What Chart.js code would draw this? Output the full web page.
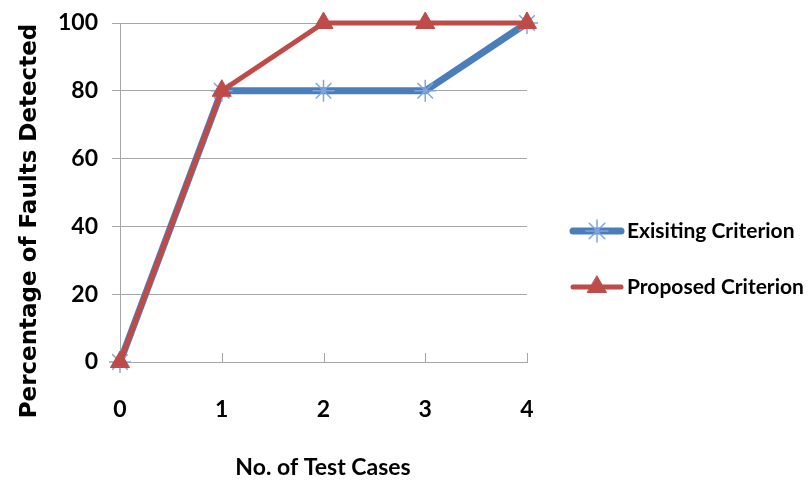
<!DOCTYPE html>
<html>
<head>
<meta charset="utf-8">
<script src="https://cdn.jsdelivr.net/npm/chart.js@4"></script>
<style>
  html, body { margin: 0; padding: 0; background: #fff; }
  #wrap { width: 812px; height: 484px; }
</style>
</head>
<body>
<div id="wrap"><canvas id="chart" width="812" height="484"></canvas></div>
<script>
// chart data
const testCases = [0, 1, 2, 3, 4];
const existing = [0, 80, 80, 80, 100];
const proposed = [0, 80, 100, 100, 100];
const yTicks = [0, 20, 40, 60, 80, 100];

const blue = '#4a7ebb';
const blueMark = '#7fa6dc';
const red = '#be4b48';
const gridGray = '#a6a6a6';

// axis titles, x tick marks and legend drawn on top of the chart
const extras = {
    id: 'extras',
    afterDraw(chart) {
        const c = chart.ctx;
        const area = chart.chartArea;
        const xs = chart.scales.x;
        c.save();

        // small inner tick marks on the x axis
        c.strokeStyle = gridGray;
        c.lineWidth = 1;
        testCases.forEach(v => {
            if (v === 0) return;
            const px = Math.round(xs.getPixelForValue(v)) + 0.5;
            c.beginPath();
            c.moveTo(px, area.bottom);
            c.lineTo(px, area.bottom - 9);
            c.stroke();
        });

        // axis titles
        c.fillStyle = '#000';
        c.textAlign = 'center';
        c.textBaseline = 'middle';
        c.font = 'bold 23px Lato';
        c.fillText('No. of Test Cases', 323, 468);

        c.translate(30, 221);
        c.rotate(-Math.PI / 2);
        c.font = 'bold 23px "DejaVu Sans"';
        c.fillText('Percentage of Faults Detected', 0, 0);
        c.restore();

        // legend
        const items = [
            { label: 'Exisiting Criterion', ds: chart.data.datasets[0], y: 231 },
            { label: 'Proposed Criterion', ds: chart.data.datasets[1], y: 287 }
        ];
        items.forEach(it => {
            c.save();
            c.strokeStyle = it.ds.borderColor;
            c.lineWidth = it.ds.borderWidth;
            c.lineCap = 'round';
            c.beginPath();
            c.moveTo(573, it.y);
            c.lineTo(621, it.y);
            c.stroke();
            c.fillStyle = it.ds.pointBackgroundColor;
            c.strokeStyle = it.ds.pointBorderColor;
            c.lineWidth = it.ds.pointBorderWidth;
            Chart.helpers.drawPoint(c, {
                pointStyle: it.ds.pointStyle,
                radius: it.ds.pointRadius,
                borderWidth: it.ds.pointBorderWidth,
                rotation: 0
            }, 597, it.y);
            c.fillStyle = '#000';
            c.textAlign = 'left';
            c.textBaseline = 'middle';
            c.font = 'bold 21px Lato';
            c.fillText(it.label, 627, it.y);
            c.restore();
        });
    }
};

const ctx = document.getElementById('chart').getContext('2d');

new Chart(ctx, {
    type: 'line',
    data: {
        labels: testCases,
        datasets: [{
            label: 'Exisiting Criterion',
            data: existing.map((v, i) => ({ x: testCases[i], y: v })),
            borderColor: blue,
            backgroundColor: blue,
            borderWidth: 7,
            pointStyle: 'star',
            pointRadius: 11,
            pointBorderColor: blueMark,
            pointBorderWidth: 1.5,
            pointBackgroundColor: blueMark,
            tension: 0,
            clip: false,
            order: 1
        }, {
            label: 'Proposed Criterion',
            data: proposed.map((v, i) => ({ x: testCases[i], y: v })),
            borderColor: red,
            backgroundColor: red,
            borderWidth: 5,
            pointStyle: 'triangle',
            pointRadius: 11,
            pointBorderColor: red,
            pointBorderWidth: 1,
            pointBackgroundColor: red,
            tension: 0,
            clip: false,
            order: 0
        }]
    },
    options: {
        responsive: false,
        animation: false,
        layout: { padding: { left: 0, right: 285, top: 23, bottom: 0 } },
        plugins: {
            legend: { display: false },
            tooltip: { enabled: false }
        },
        scales: {
            x: {
                type: 'linear',
                min: 0,
                max: 4,
                afterFit(scale) {
                    scale.height = 122;
                    scale.paddingLeft = 0;
                    scale.paddingRight = 0;
                },
                ticks: {
                    stepSize: 1,
                    padding: 34,
                    color: '#000',
                    font: { family: 'Lato', size: 23, weight: 'bold' }
                },
                grid: { drawOnChartArea: false, drawTicks: false },
                border: { color: gridGray, width: 1 }
            },
            y: {
                min: 0,
                max: 100,
                afterFit(scale) {
                    scale.width = 120;
                    scale.paddingTop = 0;
                    scale.paddingBottom = 0;
                },
                afterBuildTicks(scale) { scale.ticks = yTicks.map(v => ({ value: v })); },
                ticks: {
                    padding: 14,
                    color: '#000',
                    font: { family: 'Lato', size: 23, weight: 'bold' }
                },
                grid: { color: gridGray, lineWidth: 1, tickLength: 8 },
                border: { color: gridGray, width: 1 }
            }
        }
    },
    plugins: [extras]
});
</script>
</body>
</html>
